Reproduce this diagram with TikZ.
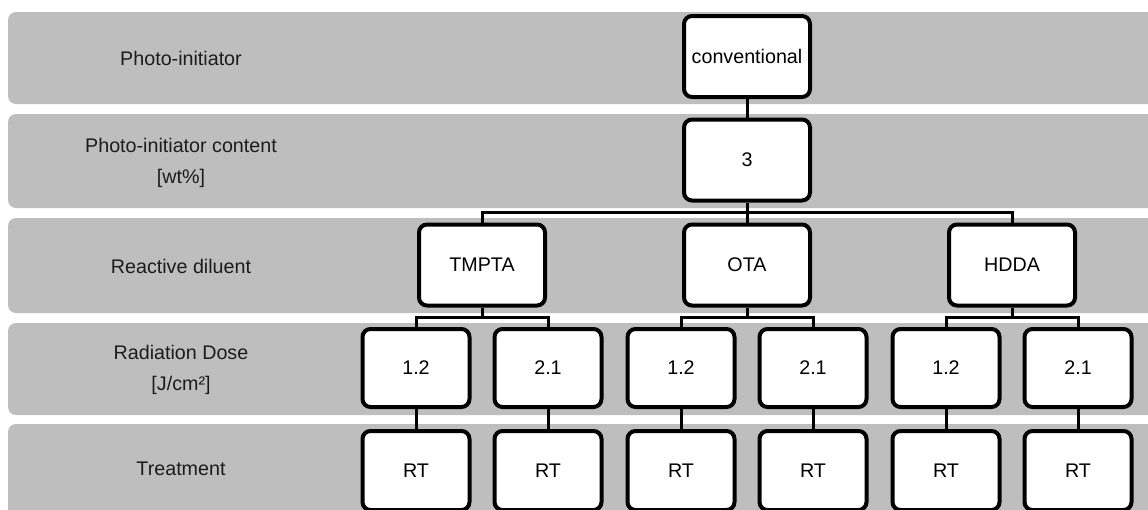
\documentclass[tikz,border=0pt]{standalone}
\usepackage{fontspec}
\setmainfont{Liberation Sans}
\usepackage{tikz}
\usetikzlibrary{calc}
\definecolor{bandgrey}{HTML}{BEBEBE}
\definecolor{labelink}{HTML}{1C1C1C}
\tikzset{
  every picture/.append style={font=\fontsize{19.7}{31}\selectfont},
  levelbox/.style={draw=black,fill=white,line width=4pt,rounded corners=8pt,
    inner sep=0pt,minimum width=126pt,minimum height=81pt},
  dosebox/.style={levelbox,minimum width=107pt,minimum height=78pt},
  link/.style={line width=3pt},
  rowlabel/.style={align=center,inner sep=0pt,text=labelink}
}

\begin{document}
\begin{tikzpicture}[x=1pt,y=-1pt]
    \useasboundingbox (0,0) rectangle (1148,509);
    % grey rows
    \foreach \top/\bot in {12/104,114/208,218/313,323/415,424/530} {
      \fill[bandgrey,rounded corners=8pt] (8,\top) rectangle (1170,\bot);
    }
    % row labels
    \node[rowlabel] (lblpi) at (181,58) {Photo-initiator};
    \node[rowlabel] (lblpc) at (181,162.5) {Photo-initiator content\\{}[wt\%]};
    \node[rowlabel] (lbldil) at (181,266) {Reactive diluent};
    \node[rowlabel] (lbldose) at (181,370) {Radiation Dose\\{}[J/cm²]};
    \node[rowlabel] (lbltreat) at (181,469) {Treatment};
    % tree
    \node[levelbox] (pi) at (747,56.5) {conventional};
    \node[levelbox] (pc) at (747,160) {3};
    \foreach \name/\x/\lab in {tmpta/482/TMPTA,ota/747/OTA,hdda/1012/HDDA} {
      \node[levelbox] (\name) at (\x,265) {\lab};
    }
    \foreach \i/\x/\lab in {1/416/1.2,2/548/2.1,3/681/1.2,4/813/2.1,5/946/1.2,6/1078/2.1} {
      \node[dosebox] (dose\i) at (\x,368) {\lab};
      \node[dosebox,minimum height=79pt] (rt\i) at (\x,470.5) {RT};
      \draw[link] (dose\i) -- (rt\i);
    }
    \coordinate (busdil) at (747,212.5);
    \coordinate (busdose) at (747,317);
    \draw[link] (pi) -- (pc);
    \draw[link] (pc) -- (ota);
    \draw[link] (tmpta.north) -- (tmpta.north |- busdil) -- (hdda.north |- busdil) -- (hdda.north);
    \foreach \p/\a/\b in {tmpta/1/2,ota/3/4,hdda/5/6} {
      \draw[link] (\p.south) -- (\p.south |- busdose);
      \draw[link] (dose\a.north) -- (dose\a.north |- busdose) -- (dose\b.north |- busdose) -- (dose\b.north);
    }
  \end{tikzpicture}
\end{document}
